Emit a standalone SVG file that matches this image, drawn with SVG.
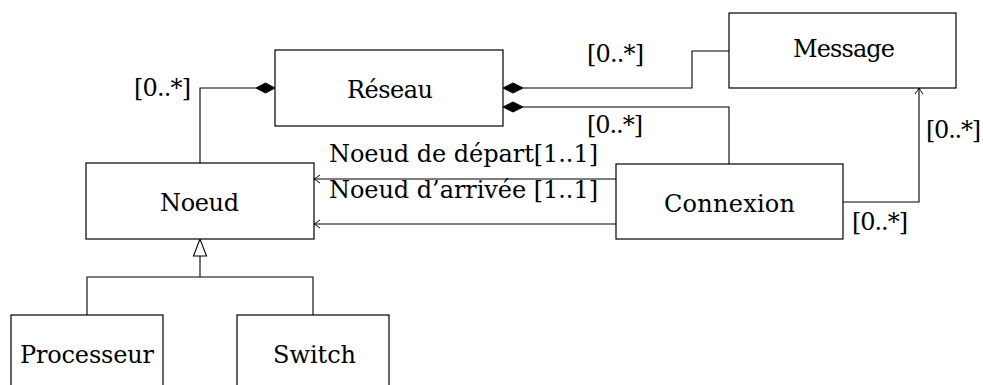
<svg xmlns="http://www.w3.org/2000/svg" width="983" height="385" viewBox="0 0 983 385">
<style>
.box{fill:#fff;stroke:#000;stroke-width:1.2}
.ln{fill:none;stroke:#000;stroke-width:1.1}
.t{font-family:'DejaVu Serif',serif;font-size:24px;fill:#000}
.dia{fill:#000;stroke:#000;stroke-width:1}
</style>
<defs>
<marker id="open" viewBox="-8 -5 10 10" refX="0" refY="0" markerWidth="10" markerHeight="10" markerUnits="userSpaceOnUse" orient="auto">
<path d="M -6 -4 Q -2 -1 0 0 Q -2 1 -6 4" fill="none" stroke="#000" stroke-width="1"/>
</marker>
</defs>
<rect width="983" height="385" fill="#fff"/>
<g id="connectors">
<polyline class="ln" points="256,88 200,88 200,163"/>
<polygon class="dia" points="275,88 265.5,83 256,88 265.5,93"/>
<polyline class="ln" points="523,88 692,88 692,51 729,51"/>
<polygon class="dia" points="503,88 513,83 523,88 513,93"/>
<polyline class="ln" points="523,107 729,107 729,164"/>
<polygon class="dia" points="503,107 513,102 523,107 513,112"/>
<line class="ln" x1="616" y1="179" x2="314" y2="179" marker-end="url(#open)"/>
<line class="ln" x1="616" y1="224" x2="314" y2="224" marker-end="url(#open)"/>
<polyline class="ln" points="843,202 919,202 919,88" marker-start="url(#open)" marker-end="url(#open)"/>
<polyline class="ln" points="87,315 87,277 313,277 313,315"/>
<line class="ln" x1="200" y1="277" x2="200" y2="256"/>
<polygon points="200,239 193.5,256 206.5,256" fill="#fff" stroke="#000" stroke-width="1.1"/>
<text class="t" x="134" y="96" textLength="57">[0..*]</text>
<text class="t" x="587" y="62" textLength="57">[0..*]</text>
<text class="t" x="587" y="133" textLength="56">[0..*]</text>
<text class="t" x="926" y="138" textLength="55">[0..*]</text>
<text class="t" x="852" y="230" textLength="56">[0..*]</text>
<text class="t" x="329" y="162" textLength="269">Noeud de départ[1..1]</text>
<text class="t" x="329" y="198" textLength="269">Noeud d’arrivée [1..1]</text>
</g>
<g id="reseau">
<rect class="box" x="275" y="50" width="228" height="76"/>
<text class="t" x="347" y="98" textLength="86">Réseau</text>
</g>
<g id="message">
<rect class="box" x="729" y="13" width="227" height="75"/>
<text class="t" x="793" y="57" textLength="102">Message</text>
</g>
<g id="noeud">
<rect class="box" x="86" y="163" width="228" height="76"/>
<text class="t" x="160" y="211" textLength="79">Noeud</text>
</g>
<g id="connexion">
<rect class="box" x="616" y="164" width="227" height="75"/>
<text class="t" x="664" y="212" textLength="131">Connexion</text>
</g>
<g id="processeur">
<rect class="box" x="11" y="315" width="152" height="90"/>
<text class="t" x="20" y="363" textLength="134">Processeur</text>
</g>
<g id="switch">
<rect class="box" x="237" y="315" width="152" height="90"/>
<text class="t" x="273" y="363" textLength="83">Switch</text>
</g>
</svg>
